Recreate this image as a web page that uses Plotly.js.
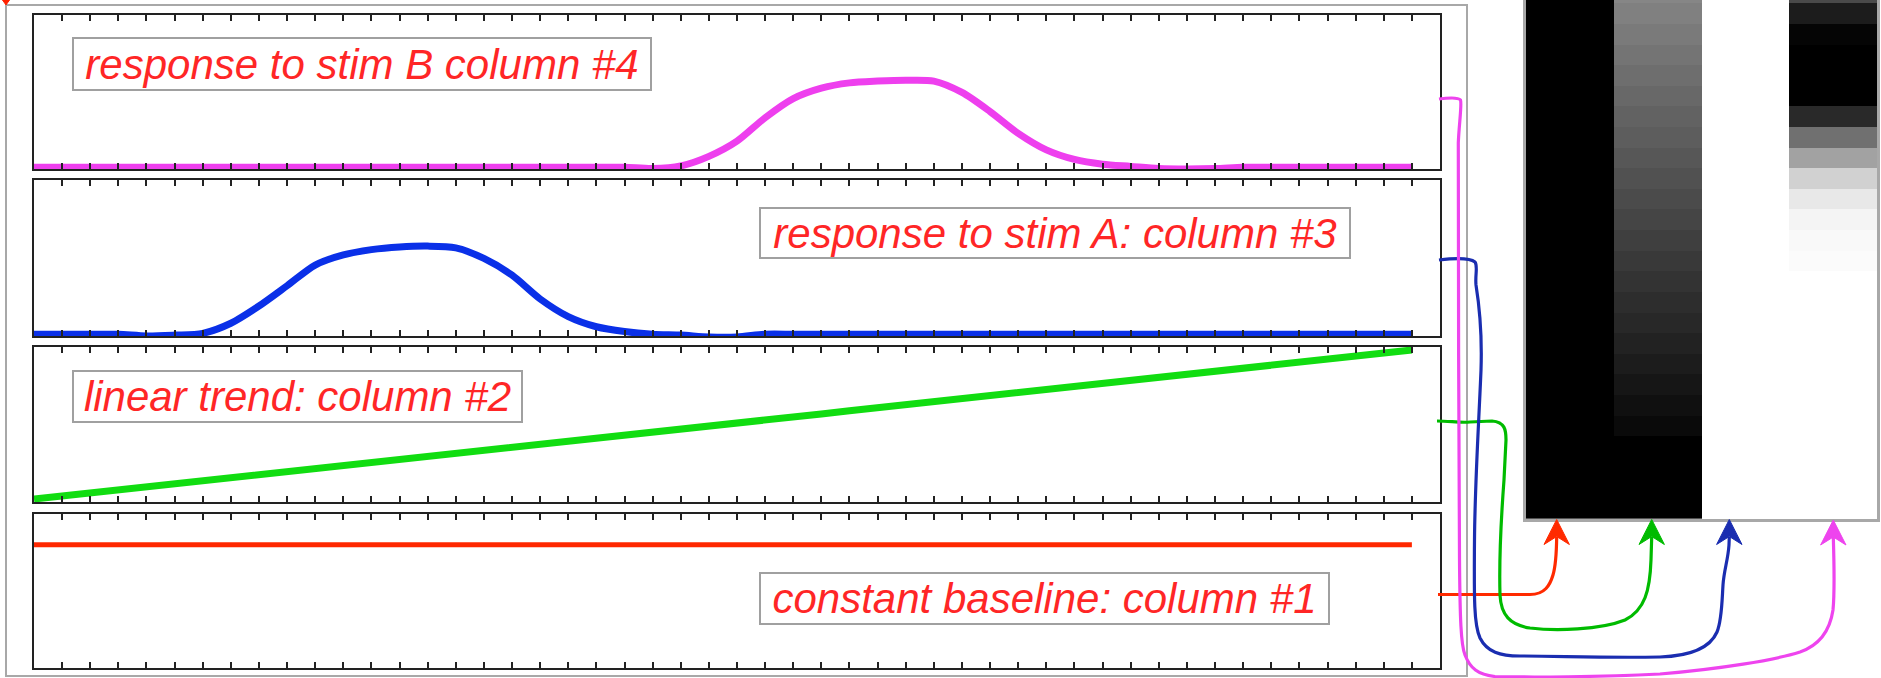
<!DOCTYPE html>
<html>
<head>
<meta charset="utf-8">
<script src="https://cdn.plot.ly/plotly-3.0.1.min.js"></script>
<style>html,body{margin:0;padding:0;background:#fff;}#chart{width:1881px;height:678px;}</style>
</head>
<body>
<div id="chart"></div>
<script>
// ---------- data ----------
const timePoints = [0,1,2,3,4,5,6,7,8,9,10,11,12,13,14,15,16,17,18,19,20,21,22,23,24,25,26,27,28,29,30,31,32,33,34,35,36,37,38,39,40,41,42,43,44,45,46,47,48,49];
const constantBaseline = [1,1,1,1,1,1,1,1,1,1,1,1,1,1,1,1,1,1,1,1,1,1,1,1,1,1,1,1,1,1,1,1,1,1,1,1,1,1,1,1,1,1,1,1,1,1,1,1,1,1];
const linearTrend = [0,0.020,0.041,0.061,0.082,0.102,0.122,0.143,0.163,0.184,0.204,0.224,0.245,0.265,0.286,0.306,0.327,0.347,0.367,0.388,0.408,0.429,0.449,0.469,0.490,0.510,0.531,0.551,0.571,0.592,0.612,0.633,0.653,0.673,0.694,0.714,0.735,0.755,0.776,0.796,0.816,0.837,0.857,0.878,0.898,0.918,0.939,0.959,0.980,1];
const stimA = [0,0,0,0,-0.02,-0.01,0.01,0.125,0.32,0.55,0.785,0.90,0.96,0.99,1.0,0.98,0.86,0.67,0.40,0.20,0.085,0.03,0,-0.01,-0.03,-0.03,0,0,0,0,0,0,0,0,0,0,0,0,0,0,0,0,0,0,0,0,0,0,0,0];
const stimB = [0,0,0,0,0,0,0,0,0,0,0,0,0,0,0,0,0,0,0,0,0,0,-0.015,0.015,0.125,0.30,0.57,0.79,0.91,0.97,0.99,1.0,0.99,0.86,0.64,0.39,0.20,0.09,0.035,0.01,-0.015,-0.02,-0.015,0,0,0,0,0,0,0];

const panelLabels = ["response to stim B column #4", "response to stim A: column #3", "linear trend: column #2", "constant baseline: column #1"];

// design-matrix image (visible rows only), darkness 0 = white, 1 = black
const matrixColumns = [1,2,3,4];
const matrixRows = [24,25,26,27,28,29,30,31,32,33,34,35,36,37,38,39,40,41,42,43,44,45,46,47,48,49];
const matrixConst = [1,1,1,1,1,1,1,1,1,1,1,1,1,1,1,1,1,1,1,1,1,1,1,1,1,1];
const matrixTrend = [0.475,0.498,0.521,0.544,0.567,0.591,0.614,0.637,0.66,0.683,0.706,0.729,0.753,0.776,0.799,0.822,0.845,0.868,0.891,0.915,0.938,0.961,1,1,1,1];
const matrixStimA = [0,0,0,0,0,0,0,0,0,0,0,0,0,0,0,0,0,0,0,0,0,0,0,0,0,0];
const matrixStimB = [0.71,0.89,0.98,1,1,1,0.84,0.56,0.365,0.18,0.09,0.045,0.025,0.015,0,0,0,0,0,0,0,0,0,0,0,0];

// ---------- layout helpers ----------
const W = 1881, H = 678;
const px = x => x / W;
const py = y => 1 - y / H;
function P(s){ return s.replace(/(-?[\d.]+)\s*,\s*(-?[\d.]+)/g, (m,a,b) => (a/W).toFixed(5) + ',' + (1 - b/H).toFixed(5)); }

const frame = '#222222';
function xAx(){
  return {domain:[px(34), px(1440)], range:[0,50], tickmode:'linear', tick0:0, dtick:1,
    ticks:'inside', ticklen:6, tickwidth:2, tickcolor:frame, showticklabels:false,
    showgrid:false, zeroline:false, showline:true, linecolor:frame, linewidth:2, mirror:'ticks', fixedrange:true};
}
function yAx(top, bottom, range){
  return {domain:[py(bottom), py(top)], range:range, showticklabels:false, ticks:'',
    showgrid:false, zeroline:false, showline:true, linecolor:frame, linewidth:2, mirror:true, fixedrange:true};
}

const traces = [
  {x: timePoints, y: stimB, xaxis:'x', yaxis:'y', mode:'lines', line:{color:'#ee3fee', width:7, shape:'spline', smoothing:0.8}, hoverinfo:'skip'},
  {x: timePoints, y: stimA, xaxis:'x2', yaxis:'y2', mode:'lines', line:{color:'#0a30e8', width:7, shape:'spline', smoothing:0.8}, hoverinfo:'skip'},
  {x: timePoints, y: linearTrend, xaxis:'x3', yaxis:'y3', mode:'lines', line:{color:'#11dd11', width:7}, hoverinfo:'skip'},
  {x: timePoints, y: constantBaseline, xaxis:'x4', yaxis:'y4', mode:'lines', line:{color:'#ff2800', width:5}, hoverinfo:'skip'},
  {type:'heatmap', x: matrixColumns, y: matrixRows,
   z: matrixRows.map((t,i) => [matrixConst[i], matrixTrend[i], matrixStimA[i], matrixStimB[i]]),
   xaxis:'x5', yaxis:'y5', zmin:0, zmax:1, colorscale:[[0,'#ffffff'],[1,'#000000']], showscale:false, hoverinfo:'skip'}
];

function box(text, x0, x1, y0, y1){
  return {text:text, xref:'paper', yref:'paper', x:px((x0+x1)/2), y:py((y0+y1)/2),
    xanchor:'center', yanchor:'middle', showarrow:false,
    font:{family:'Liberation Sans, Arial, sans-serif', size:42, color:'#ff2626', style:'italic'},
    bgcolor:'#ffffff', bordercolor:'#a0a0a0', borderwidth:2, borderpad:0,
    width:(x1-x0)-4, height:(y1-y0)-4, align:'center', valign:'middle'};
}

function arrow(color, shaft, tip){
  const [tx, ty] = tip;
  const head = `M ${tx},${ty} L ${tx-12.7},${ty+25} L ${tx},${ty+17} L ${tx+12.7},${ty+25} Z`;
  return [
    {type:'path', xref:'paper', yref:'paper', path:P(shaft), line:{color:color, width:3.2}},
    {type:'path', xref:'paper', yref:'paper', path:P(head), fillcolor:color, line:{color:color, width:1}}
  ];
}

const shapes = [
  {type:'rect', xref:'paper', yref:'paper', x0:px(6), x1:px(1467), y0:py(676), y1:py(5), line:{color:'#a8a8a8', width:2}, layer:'below'},
  {type:'path', xref:'paper', yref:'paper', path:P('M 2.5,0 L 9.5,0 L 6,5 Z'), fillcolor:'#ff2200', line:{color:'#ff2200', width:1}},
  ...arrow('#ff2a00', 'M 1438,594.5 L 1530,594.5 C 1545,594.5 1550,585 1553,575 C 1556,565 1556.5,550 1556.7,537', [1556.7,519.5]),
  ...arrow('#00bb00', 'M 1437,421 C 1450,421 1460,423 1470,422 L 1492,421 C 1505,422 1506,430 1506,440 L 1504,480 C 1501,520 1499,560 1500,595 C 1501,615 1510,625 1530,628 C 1555,631 1600,630 1625,620 C 1645,610 1650,590 1651,560 L 1651.7,537', [1651.7,519.5]),
  ...arrow('#1a2db0', 'M 1439,260 C 1455,258 1470,258 1475,262 C 1478,266 1475,275 1476,285 C 1480,310 1482,340 1481,370 C 1479,420 1475,480 1474.5,540 C 1474,600 1474,625 1480,638 C 1487,652 1500,656 1520,656 C 1560,656 1600,658 1660,657 C 1690,656 1710,648 1717,632 C 1722,620 1722,600 1723,585 C 1724,570 1728,560 1729,545 L 1729.3,537', [1729.3,519.5]),
  ...arrow('#ee44ee', 'M 1439,99 C 1450,97.5 1458,97 1460.5,100 C 1462,104 1459,125 1458.3,143 C 1458,250 1459,450 1459.5,560 C 1460,620 1461,645 1465,655 C 1470,668 1478,675 1495,676.5 C 1530,677.5 1600,677 1660,674 C 1720,669 1775,660 1800,652 C 1820,645 1830,630 1833,610 C 1835,590 1834,560 1833.3,537', [1833.3,520])
];

const layout = {
  width: W, height: H, margin:{l:0, r:0, t:0, b:0, pad:0},
  paper_bgcolor:'#ffffff', plot_bgcolor:'rgba(0,0,0,0)', showlegend:false,
  xaxis: xAx(), xaxis2: Object.assign(xAx(), {anchor:'y2'}), xaxis3: Object.assign(xAx(), {anchor:'y3'}), xaxis4: Object.assign(xAx(), {anchor:'y4'}),
  yaxis: yAx(15, 169, [-0.02, 1.75]),
  yaxis2: Object.assign(yAx(180, 336, [-0.02, 1.75]), {anchor:'x2'}),
  yaxis3: Object.assign(yAx(347, 502, [-0.02, 1.02]), {anchor:'x3'}),
  yaxis4: Object.assign(yAx(514, 668, [0, 1.25]), {anchor:'x4'}),
  xaxis5: {domain:[px(1526), px(1877)], range:[0.5,4.5], anchor:'y5', showticklabels:false, ticks:'', showgrid:false, zeroline:false, showline:true, linecolor:'#a8a8a8', linewidth:3, mirror:true, fixedrange:true},
  yaxis5: {domain:[py(519), 1], range:[49.5, 24.34], anchor:'x5', showticklabels:false, ticks:'', showgrid:false, zeroline:false, showline:true, linecolor:'#a8a8a8', linewidth:3, mirror:true, fixedrange:true},
  annotations: [
    box(panelLabels[0], 72, 652, 37, 91),
    box(panelLabels[1], 759, 1351, 207, 259),
    box(panelLabels[2], 72, 523, 370, 423),
    box(panelLabels[3], 759, 1330, 572, 625)
  ],
  shapes: shapes
};

Plotly.newPlot('chart', traces, layout, {staticPlot:true, displayModeBar:false});
</script>
</body>
</html>
